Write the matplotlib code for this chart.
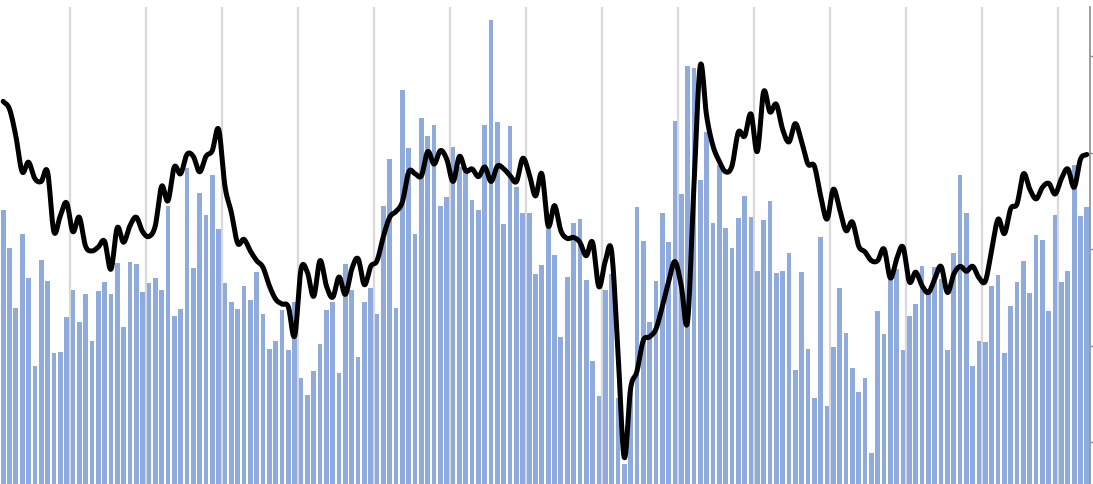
import numpy as np
import matplotlib
matplotlib.use("Agg")
import matplotlib.pyplot as plt

# monthly bar series (left axis)
bar_values = [
    274, 236, 176, 250, 206, 118, 224, 203, 131, 132, 167, 194,
    162, 190, 143, 193, 202, 190, 221, 157, 222, 220, 192, 201,
    206, 194, 278, 168, 175, 316, 216, 291, 269, 309, 255, 201,
    182, 175, 198, 184, 212, 170, 135, 143, 174, 134, 182, 106,
    89, 113, 140, 174, 182, 111, 220, 194, 127, 182, 196, 170,
    278, 325, 176, 394, 336, 250, 366, 348, 359, 278, 287, 337,
    317, 315, 284, 274, 359, 464, 362, 260, 358, 297, 271, 271,
    210, 219, 258, 229, 147, 207, 261, 265, 204, 123, 88, 194,
    210, 86, 20, 96, 277, 243, 162, 203, 271, 242, 363, 290,
    418, 416, 304, 352, 261, 319, 256, 236, 266, 288, 267, 213,
    264, 283, 211, 213, 231, 114, 212, 135, 86, 247, 78, 137,
    196, 151, 116, 92, 106, 31, 173, 150, 207, 215, 134, 168,
    180, 218, 195, 217, 205, 134, 231, 309, 271, 118, 143, 142,
    198, 209, 131, 178, 202, 223, 191, 249, 244, 173, 269, 202,
    213, 319, 268, 277,
]

# smoothed line series (right axis)
line_values = [
    3.53, 3.45, 3.17, 2.80, 2.90, 2.73, 2.70, 2.80, 2.18, 2.34, 2.48, 2.18,
    2.33, 2.03, 1.98, 2.02, 2.08, 1.79, 2.22, 2.07, 2.24, 2.33, 2.18, 2.13,
    2.24, 2.65, 2.50, 2.85, 2.78, 2.98, 2.96, 2.80, 2.96, 3.02, 3.24, 2.65,
    2.38, 2.06, 2.10, 1.98, 1.88, 1.81, 1.62, 1.48, 1.43, 1.40, 1.10, 1.79,
    1.76, 1.51, 1.88, 1.62, 1.50, 1.71, 1.53, 1.79, 1.90, 1.63, 1.82, 1.88,
    2.13, 2.33, 2.39, 2.49, 2.80, 2.78, 2.76, 3.01, 2.88, 3.02, 2.93, 2.70,
    2.96, 2.81, 2.83, 2.75, 2.85, 2.70, 2.86, 2.83, 2.76, 2.70, 2.94, 2.78,
    2.55, 2.78, 2.24, 2.45, 2.19, 2.11, 2.12, 2.07, 1.93, 2.07, 1.61, 1.87,
    1.98, 0.96, -0.16, 0.55, 0.73, 1.05, 1.09, 1.17, 1.40, 1.66, 1.87, 1.62,
    1.25, 2.65, 3.90, 3.38, 3.07, 2.91, 2.80, 2.86, 3.21, 3.17, 3.40, 3.01,
    3.63, 3.42, 3.50, 3.24, 3.11, 3.30, 3.11, 2.88, 2.86, 2.55, 2.31, 2.62,
    2.41, 2.19, 2.28, 2.03, 1.97, 1.88, 1.88, 2.00, 1.70, 1.90, 2.02, 1.66,
    1.76, 1.62, 1.55, 1.69, 1.82, 1.55, 1.74, 1.82, 1.77, 1.82, 1.70, 1.67,
    2.00, 2.31, 2.16, 2.42, 2.47, 2.78, 2.62, 2.52, 2.64, 2.68, 2.57, 2.73,
    2.83, 2.64, 2.93, 2.98,
]

right_ticks = [0, 1, 2, 3, 4]


def smooth_curve(x, y, steps=12):
    # cubic Hermite with Catmull-Rom tangents, like a spreadsheet "smoothed line"
    x = np.asarray(x, dtype=float)
    y = np.asarray(y, dtype=float)
    m = np.gradient(y)
    xs, ys = [], []
    t = np.linspace(0, 1, steps, endpoint=False)
    h00 = 2 * t**3 - 3 * t**2 + 1
    h10 = t**3 - 2 * t**2 + t
    h01 = -2 * t**3 + 3 * t**2
    h11 = t**3 - t**2
    for k in range(len(x) - 1):
        xs.append(x[k] + t * (x[k + 1] - x[k]))
        ys.append(h00 * y[k] + h10 * m[k] + h01 * y[k + 1] + h11 * m[k + 1])
    xs.append([x[-1]])
    ys.append([y[-1]])
    return np.concatenate(xs), np.concatenate(ys)


n = len(bar_values)
idx = np.arange(n)

fig = plt.figure(figsize=(10.93, 4.85), dpi=100)
ax = fig.add_axes([0, 0, 1090 / 1093, 477 / 485])

# yearly gridlines between categories
for g in np.arange(10.5, n, 12):
    ax.axvline(g, color='#d9d9d9', lw=1.6, zorder=0)

ax.bar(idx, bar_values, width=0.74, color='#8faadc', zorder=2)
ax.set_xlim(-0.5, n - 0.5)
ax.set_ylim(0, 477)
ax.set_xticks([])
ax.set_yticks([])
for s in ax.spines.values():
    s.set_visible(False)

ax2 = ax.twinx()
sx, sy = smooth_curve(idx, line_values)
ax2.plot(sx, sy, color='black', lw=3.6, solid_capstyle='round',
         solid_joinstyle='round', zorder=3)
ax2.set_ylim(-0.435, 4.508)
ax2.set_yticks(right_ticks)
ax2.tick_params(axis='y', direction='out', length=3, width=1,
                color='#8c8c8c', labelright=False)
ax2.set_xticks([])
for name, s in ax2.spines.items():
    s.set_visible(name == 'right')
ax2.spines['right'].set_color('#8c8c8c')
ax2.spines['right'].set_linewidth(1.2)

fig.savefig('out.png', dpi=100)
